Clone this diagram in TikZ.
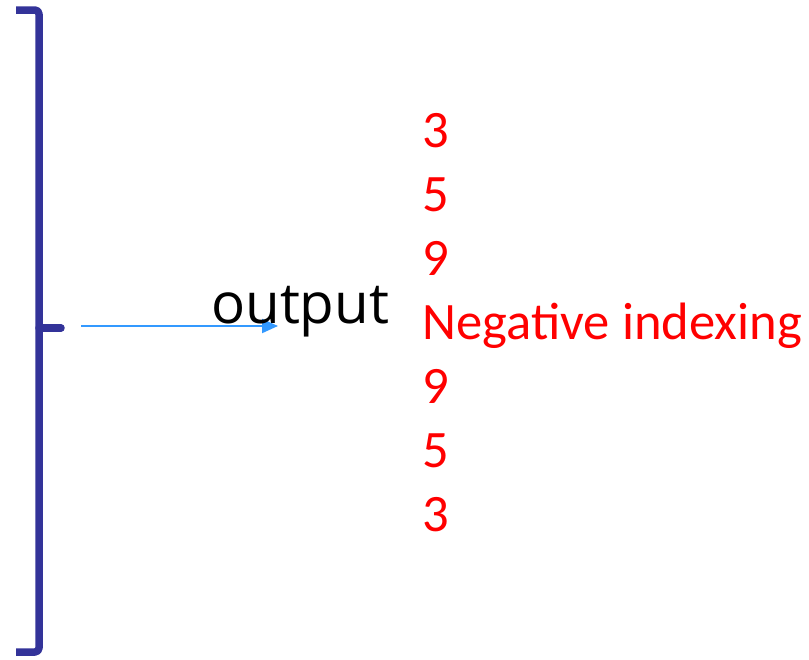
\documentclass[tikz,border=0pt]{standalone}
\usepackage{fontspec}
\setmainfont{Carlito}
\newfontfamily\opensans{Open Sans}
\usetikzlibrary{arrows.meta}
\definecolor{bracecol}{HTML}{333399}
\definecolor{arrowcol}{HTML}{3399FF}
\definecolor{redtext}{HTML}{FF0000}
\tikzset{
  bracestyle/.style={draw=bracecol, line width=7.5pt, line join=round, rounded corners=4pt},
  bracetick/.style={draw=bracecol, line width=7.5pt, line cap=round},
  arrowstyle/.style={draw=arrowcol, line width=2pt, -{Triangle[length=16pt,width=14pt]}},
  redlabel/.style={anchor=base west, inner sep=0pt, text=redtext, font=\fontsize{52.6}{63}\selectfont},
  outlabel/.style={anchor=base west, inner sep=0pt, text=black, font=\opensans\fontsize{56.5}{68}\selectfont}
}
\begin{document}
\begin{tikzpicture}[x=1pt, y=-1pt]
\useasboundingbox (0,0) rectangle (809,659);
% brace
\coordinate (btop) at (16,10);
\coordinate (bbot) at (16,652);
\coordinate (bmid) at (39,328);
\coordinate (btip) at (61,328);
\draw[bracestyle] (btop) -- (39,10) -- (39,652) -- (bbot);
\draw[bracetick] (bmid) -- (btip);
% arrow
\coordinate (astart) at (81,326);
\coordinate (aend) at (278,326);
\draw[arrowstyle] (astart) -- (aend);
% labels
\node[outlabel] (output) at (211,323) {output};
\node[redlabel] (n1) at (422.5,147) {3};
\node[redlabel] (n2) at (422.5,211) {5};
\node[redlabel] (n3) at (422.5,275) {9};
\node[redlabel] (n4) at (422.5,339) {Negative indexing};
\node[redlabel] (n5) at (422.5,403) {9};
\node[redlabel] (n6) at (422.5,467) {5};
\node[redlabel] (n7) at (422.5,531) {3};
\end{tikzpicture}
\end{document}
